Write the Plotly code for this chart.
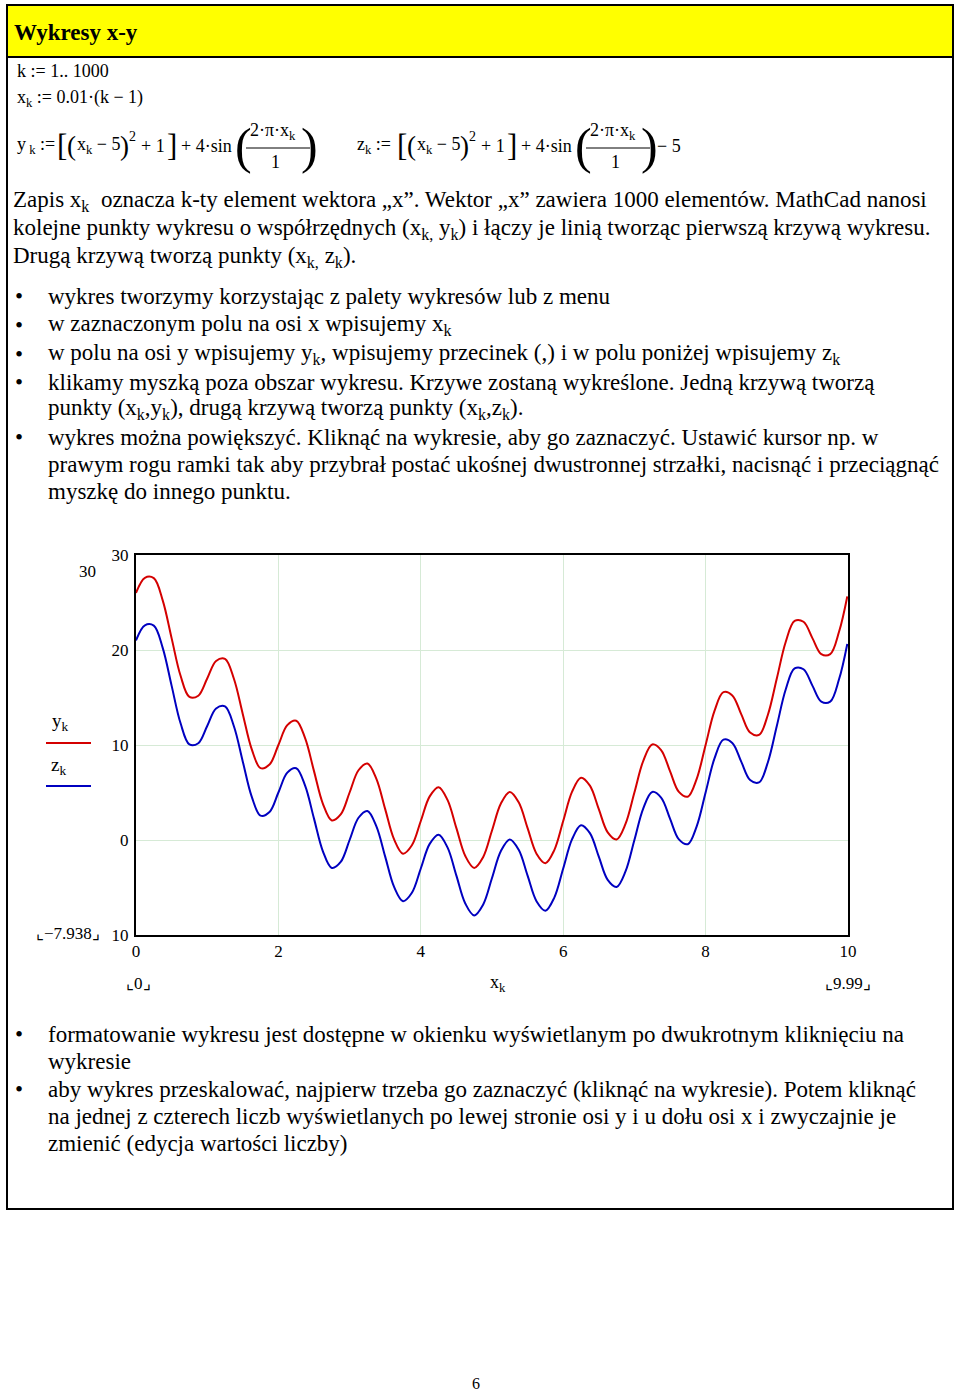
import plotly.graph_objects as go

# ---------------- data ----------------
x_vals = [0.0, 0.125, 0.25, 0.375, 0.5, 0.625, 0.75, 0.875,
          1.0, 1.125, 1.25, 1.375, 1.5, 1.625, 1.75, 1.875,
          2.0, 2.125, 2.25, 2.375, 2.5, 2.625, 2.75, 2.875,
          3.0, 3.125, 3.25, 3.375, 3.5, 3.625, 3.75, 3.875,
          4.0, 4.125, 4.25, 4.375, 4.5, 4.625, 4.75, 4.875,
          5.0, 5.125, 5.25, 5.375, 5.5, 5.625, 5.75, 5.875,
          6.0, 6.125, 6.25, 6.375, 6.5, 6.625, 6.75, 6.875,
          7.0, 7.125, 7.25, 7.375, 7.5, 7.625, 7.75, 7.875,
          8.0, 8.125, 8.25, 8.375, 8.5, 8.625, 8.75, 8.875,
          9.0, 9.125, 9.25, 9.375, 9.5, 9.625, 9.75, 9.875, 9.99]
y_vals = [26.0, 27.6, 27.56, 25.22, 21.25, 17.31, 15.06, 15.19,
          17.0, 18.84, 19.06, 16.97, 13.25, 9.56, 7.56, 7.94,
          10.0, 12.09, 12.56, 10.72, 7.25, 3.81, 2.06, 2.69,
          5.0, 7.34, 8.06, 6.47, 3.25, 0.06, -1.44, -0.56,
          2.0, 4.59, 5.56, 4.22, 1.25, -1.69, -2.94, -1.81,
          1.0, 3.84, 5.06, 3.97, 1.25, -1.44, -2.44, -1.06,
          2.0, 5.09, 6.56, 5.72, 3.25, 0.81, 0.06, 1.69,
          5.0, 8.34, 10.06, 9.47, 7.25, 5.06, 4.56, 6.44,
          10.0, 13.59, 15.56, 15.22, 13.25, 11.31, 11.06, 13.19,
          17.0, 20.84, 23.06, 22.97, 21.25, 19.56, 19.56, 21.94, 25.65]
z_vals = [21.0, 22.6, 22.56, 20.22, 16.25, 12.31, 10.06, 10.19,
          12.0, 13.84, 14.06, 11.97, 8.25, 4.56, 2.56, 2.94,
          5.0, 7.09, 7.56, 5.72, 2.25, -1.19, -2.94, -2.31,
          0.0, 2.34, 3.06, 1.47, -1.75, -4.94, -6.44, -5.56,
          -3.0, -0.41, 0.56, -0.78, -3.75, -6.69, -7.94, -6.81,
          -4.0, -1.16, 0.06, -1.03, -3.75, -6.44, -7.44, -6.06,
          -3.0, 0.09, 1.56, 0.72, -1.75, -4.19, -4.94, -3.31,
          0.0, 3.34, 5.06, 4.47, 2.25, 0.06, -0.44, 1.44,
          5.0, 8.59, 10.56, 10.22, 8.25, 6.31, 6.06, 8.19,
          12.0, 15.84, 18.06, 17.97, 16.25, 14.56, 14.56, 16.94, 20.65]
x_ticks = [0, 2, 4, 6, 8, 10]
x_tick_labels = ["0", "2", "4", "6", "8", "10"]
y_ticks = [-10, 0, 10, 20, 30]
y_tick_labels = ["10", "0", "10", "20", "30"]

# ---------------- page geometry ----------------
W, H = 960, 1391
L, R, T, B = 136, 848, 555, 935
SERIF = "Times New Roman, Liberation Serif, serif"


def px(x):
    return (x - L) / (R - L)


def py(y):
    return (B - y) / (B - T)


annotations = []
shapes = []


def ann(text, x, y, size=18, xanchor="left", yanchor="middle", bold=False, color="black", family=SERIF):
    annotations.append(dict(
        text=("<b>%s</b>" % text) if bold else text,
        x=px(x), y=py(y), xref="paper", yref="paper",
        xanchor=xanchor, yanchor=yanchor, showarrow=False,
        font=dict(family=family, size=size, color=color),
        borderpad=0, align="left"))


def line(x0, y0, x1, y1, color="black", width=1):
    shapes.append(dict(type="line", xref="paper", yref="paper",
                       x0=px(x0), y0=py(y0), x1=px(x1), y1=py(y1),
                       line=dict(color=color, width=width)))


def rect(x0, y0, x1, y1, fill=None, color="black", width=2, layer="above"):
    shapes.append(dict(type="rect", xref="paper", yref="paper",
                       x0=px(x0), y0=py(y0), x1=px(x1), y1=py(y1),
                       fillcolor=fill if fill else "rgba(0,0,0,0)",
                       line=dict(color=color, width=width), layer=layer))


# header and page frame
rect(7, 5, 953, 57, fill="#ffff00", width=0, layer="below")
rect(7, 5, 953, 1209, width=2)
line(7, 57, 953, 57, width=2)
ann("Wykresy x-y", 13, 32, size=23, bold=True)

# formulas
ann("k := 1.. 1000", 16, 71)
ann("x<sub>k</sub> := 0.01·(k − 1)", 16, 98)


def formula(x0, lead, tail):
    fy = 146
    ann(lead, x0, fy)
    ann("[", x0 + 40, fy, size=31)
    ann("(", x0 + 50, fy, size=27)
    ann("x<sub>k</sub> − 5", x0 + 60, fy)
    ann(")", x0 + 103, fy, size=27)
    ann("2", x0 + 112, fy - 10, size=14)
    ann("+ 1", x0 + 124, fy)
    ann("]", x0 + 150, fy, size=31)
    ann("+ 4·sin", x0 + 164, fy)
    ann("(", x0 + 218, fy, size=50)
    ann("2·π·x<sub>k</sub>", x0 + 233, fy - 15, size=18)
    line(x0 + 230, fy + 2, x0 + 294, fy + 2)
    ann("1", x0 + 259, fy + 16, size=18, xanchor="center")
    ann(")", x0 + 284, fy, size=50)
    if tail:
        ann(tail, x0 + 300, fy)


formula(16, "y<sub> k</sub> :=", "")
formula(356, "z<sub>k</sub> :=", "− 5")

# paragraph
PS = 23
ann("Zapis x<sub>k</sub>  oznacza k-ty element wektora „x”. Wektor „x” zawiera 1000 elementów. MathCad nanosi", 12, 201, size=PS)
ann("kolejne punkty wykresu o współrzędnych (x<sub>k,</sub> y<sub>k</sub>) i łączy je linią tworząc pierwszą krzywą wykresu.", 12, 229, size=PS)
ann("Drugą krzywą tworzą punkty (x<sub>k,</sub> z<sub>k</sub>).", 12, 257, size=PS)

bullets_top = [
    (296, True, "wykres tworzymy korzystając z palety wykresów lub z menu"),
    (325, True, "w zaznaczonym polu na osi x wpisujemy x<sub>k</sub>"),
    (354, True, "w polu na osi y wpisujemy y<sub>k</sub>, wpisujemy przecinek (,) i w polu poniżej wpisujemy z<sub>k</sub>"),
    (382, True, "klikamy myszką poza obszar wykresu. Krzywe zostaną wykreślone. Jedną krzywą tworzą"),
    (409, False, "punkty (x<sub>k</sub>,y<sub>k</sub>), drugą krzywą tworzą punkty (x<sub>k</sub>,z<sub>k</sub>)."),
    (437, True, "wykres można powiększyć. Kliknąć na wykresie, aby go zaznaczyć. Ustawić kursor np. w"),
    (464, False, "prawym rogu ramki tak aby przybrał postać ukośnej dwustronnej strzałki, nacisnąć i przeciągnąć"),
    (491, False, "myszkę do innego punktu."),
]
bullets_bottom = [
    (1034, True, "formatowanie wykresu jest dostępne w okienku wyświetlanym po dwukrotnym kliknięciu na"),
    (1061, False, "wykresie"),
    (1089, True, "aby wykres przeskalować, najpierw trzeba go zaznaczyć (kliknąć na wykresie). Potem kliknąć"),
    (1116, False, "na jednej z czterech liczb wyświetlanych po lewej stronie osi y i u dołu osi x i zwyczajnie je"),
    (1143, False, "zmienić (edycja wartości liczby)"),
]
for yy, has_bullet, txt in bullets_top + bullets_bottom:
    if has_bullet:
        ann("•", 19, yy, size=PS, xanchor="center")
    ann(txt, 47, yy, size=PS)

# chart side labels (MathCad limit markers and legend)
ann("30", 87, 571, size=17, xanchor="center")
ann("⌞−7.938⌟", 101, 933, size=17, xanchor="right")
ann("⌞0⌟", 138, 983, size=17, xanchor="center")
ann("x<sub>k</sub>", 498, 983, size=18, xanchor="center")
ann("⌞9.99⌟", 848, 983, size=17, xanchor="center")
ann("y<sub>k</sub>", 51, 722, size=19)
line(46, 743, 91, 743, color="#d40000", width=2)
ann("z<sub>k</sub>", 50, 766, size=19)
line(46, 786, 91, 786, color="#0000c0", width=2)

# page number
ann("6", 476, 1383, size=16, xanchor="center")

fig = go.Figure()
fig.add_trace(go.Scatter(x=x_vals, y=y_vals, mode="lines", name="y_k",
                         line=dict(color="#d40000", width=2, shape="spline", smoothing=1.0)))
fig.add_trace(go.Scatter(x=x_vals, y=z_vals, mode="lines", name="z_k",
                         line=dict(color="#0000c0", width=2, shape="spline", smoothing=1.0)))

fig.update_layout(
    width=W, height=H,
    margin=dict(l=L, r=W - R, t=T, b=H - B, pad=0),
    paper_bgcolor="white", plot_bgcolor="white",
    showlegend=False,
    font=dict(family=SERIF, size=17, color="black"),
    annotations=annotations, shapes=shapes,
    xaxis=dict(range=[0, 10], tickvals=x_ticks, ticktext=x_tick_labels,
               showgrid=True, gridcolor="#d6ead6", gridwidth=1,
               zeroline=False, showline=True, mirror=True, linecolor="black", linewidth=2,
               ticks="", ticklabelstandoff=0, tickfont=dict(family=SERIF, size=17)),
    yaxis=dict(range=[-10, 30], tickvals=y_ticks, ticktext=y_tick_labels,
               showgrid=True, gridcolor="#d6ead6", gridwidth=1,
               zeroline=False, showline=True, mirror=True, linecolor="black", linewidth=2,
               ticks="", ticklabelstandoff=2, tickfont=dict(family=SERIF, size=17)),
)

fig.write_html("out.html", config={"displayModeBar": False},
               post_script="document.body.style.margin='0px';document.body.style.overflow='hidden';")
